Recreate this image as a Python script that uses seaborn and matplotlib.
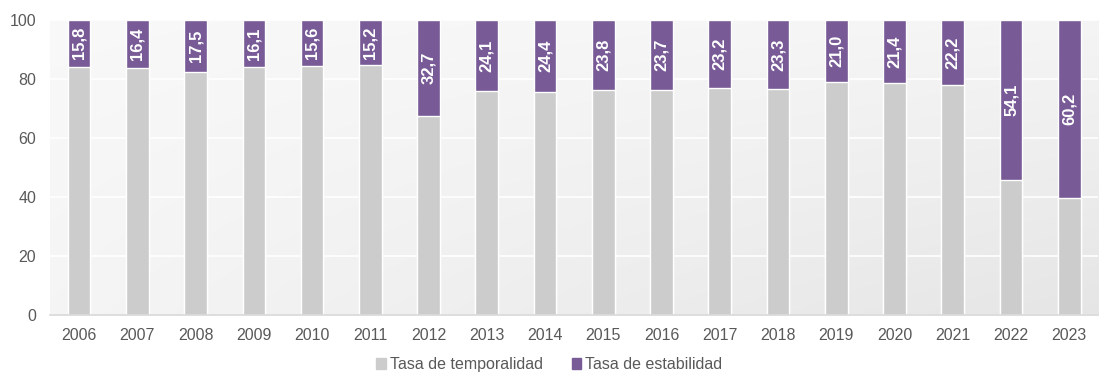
import numpy as np
import pandas as pd
import matplotlib
matplotlib.use("Agg")
import matplotlib.pyplot as plt
import seaborn as sns
from matplotlib.patches import Patch

years = ["2006", "2007", "2008", "2009", "2010", "2011", "2012", "2013", "2014",
         "2015", "2016", "2017", "2018", "2019", "2020", "2021", "2022", "2023"]
tasa_temporalidad = [84.2, 83.6, 82.5, 83.9, 84.4, 84.8, 67.3, 75.9, 75.6,
                     76.2, 76.3, 76.8, 76.7, 79.0, 78.6, 77.8, 45.9, 39.8]
tasa_estabilidad = [15.8, 16.4, 17.5, 16.1, 15.6, 15.2, 32.7, 24.1, 24.4,
                    23.8, 23.7, 23.2, 23.3, 21.0, 21.4, 22.2, 54.1, 60.2]

df = pd.DataFrame({"year": years,
                   "temporal": tasa_temporalidad,
                   "estable": tasa_estabilidad})
df["total"] = df["temporal"] + df["estable"]

GRAY = "#cccccc"
PURPLE = "#775a96"
TEXT = "#595959"

sns.set_theme(style="white")
plt.rcParams["font.family"] = ["Liberation Sans", "DejaVu Sans"]

fig = plt.figure(figsize=(10.99, 3.76), dpi=100)
ax = fig.add_axes([0.0455, 0.162, 0.954, 0.785])

# soft diagonal gradient behind the plot area
gx, gy = np.meshgrid(np.linspace(0, 1, 200), np.linspace(0, 1, 60))
shade = 0.975 - 0.015 * gx - 0.015 * gy - 0.045 * gx * gy
ax.imshow(np.dstack([shade, shade, shade]), extent=(-0.5, len(years) - 0.5, 0, 100),
          aspect="auto", origin="upper", zorder=0, interpolation="bilinear")

# stacked bars: full column in purple, temporal share drawn over it in gray
sns.barplot(data=df, x="year", y="total", color=PURPLE, width=0.39,
            saturation=1, ax=ax, zorder=3)
sns.barplot(data=df, x="year", y="temporal", color=GRAY, width=0.39,
            saturation=1, ax=ax, zorder=4)

for i, (t, e) in enumerate(zip(tasa_temporalidad, tasa_estabilidad)):
    ax.text(i, t + e / 2, f"{e:.1f}".replace(".", ","), rotation=90,
            ha="center", va="center", color="white", fontsize=12,
            fontweight="bold", zorder=5)

ax.set_xlim(-0.5, len(years) - 0.5)
ax.set_ylim(0, 100)
ax.set_yticks(range(0, 101, 20))
ax.yaxis.grid(True, color="white", linewidth=1.2, zorder=1)
ax.set_axisbelow(False)
for gl in ax.get_ygridlines():
    gl.set_zorder(1)
ax.set_xlabel("")
ax.set_ylabel("")
for s in ["top", "right", "left"]:
    ax.spines[s].set_visible(False)
ax.spines["bottom"].set_color("#d9d9d9")
ax.spines["bottom"].set_zorder(6)
ax.tick_params(axis="both", length=0, colors=TEXT, labelsize=11.5)
ax.tick_params(axis="x", pad=9)
ax.tick_params(axis="y", pad=10)

handles = [Patch(color=GRAY, label="Tasa de temporalidad"),
           Patch(color=PURPLE, label="Tasa de estabilidad")]
leg = fig.legend(handles=handles, loc="lower center", ncol=2, frameon=False,
                 bbox_to_anchor=(0.5, -0.028), fontsize=11.5,
                 handlelength=0.6, handleheight=0.6, handletextpad=0.25,
                 columnspacing=1.8)
for txt in leg.get_texts():
    txt.set_color(TEXT)

fig.savefig("out.png", dpi=100, facecolor="white")
